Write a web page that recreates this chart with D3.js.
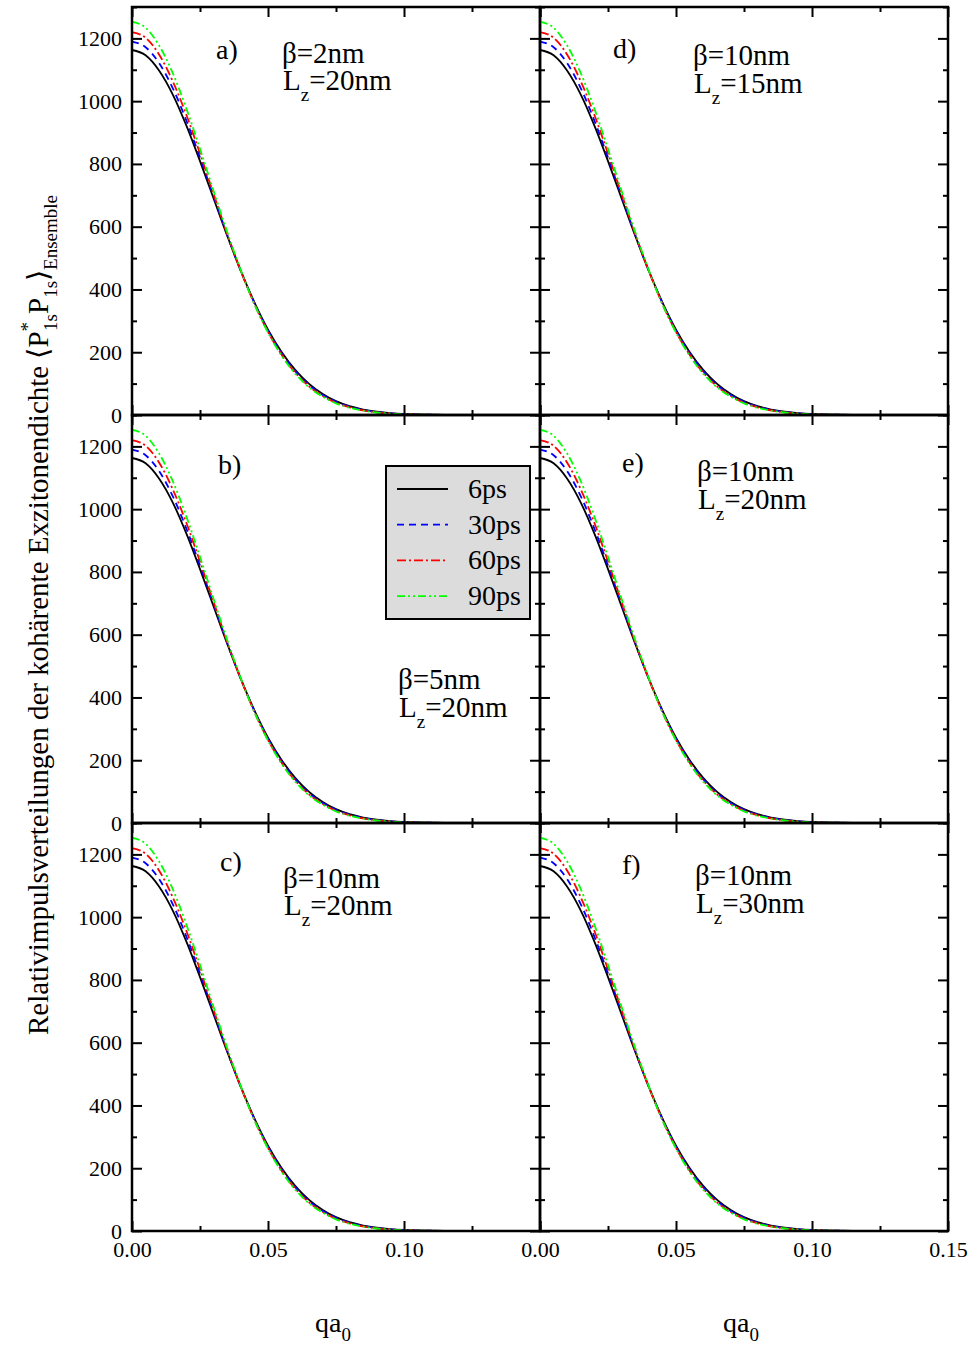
<!DOCTYPE html>
<html><head><meta charset="utf-8">
<script src="https://cdn.jsdelivr.net/npm/d3@7"></script>
<style>
html,body{margin:0;padding:0;background:#fff;}
svg{display:block;}
text{font-family:"Liberation Serif","Times New Roman",serif;fill:#000;}
</style>
</head><body>
<svg id="chart" width="972" height="1349"></svg>
<script>
// ---------------- data ----------------
const qValues = [0.000,0.005,0.010,0.015,0.020,0.025,0.030,0.035,0.040,0.045,0.050,0.055,0.060,0.065,0.070,0.075,0.080,0.085,0.090,0.095,0.100,0.105,0.110,0.115,0.120,0.130,0.140,0.150];
const ps6  = [1163,1146,1097,1021,922,809,690,571,459,359,272,201,144,100,68,44,28,17.5,10.5,6,3.5,2,1,0.5,0,0,0,0];
const ps30 = [1190,1172,1121,1041,938,820,697,574,459,357,269,197,140,96,64.5,42,26.4,16.2,9.6,5.5,3.1,1.7,0.9,0.4,0,0,0,0];
const ps60 = [1220,1202,1148,1063,956,833,704,577,459,354,265,192,135,92,61,39,24.5,14.8,8.7,4.9,2.7,1.4,0.7,0.35,0,0,0,0];
const ps90 = [1253,1234,1177,1089,976,848,714,583,461,353,263,189,132,89,59,37,23,14,8,4.5,2.4,1.2,0.6,0.3,0,0,0,0];
const seriesNames = ["6ps","30ps","60ps","90ps"];
const seriesValues = [ps6, ps30, ps60, ps90];

const panelLabels = ["a)","b)","c)","d)","e)","f)"];
const panelBeta   = ["2nm","5nm","10nm","10nm","10nm","10nm"];
const panelLz     = ["20nm","20nm","20nm","15nm","20nm","30nm"];

const yTicksMajor = [0,200,400,600,800,1000,1200];
const yTicksMinor = [100,300,500,700,900,1100,1300];
const xTicksMajor = [0,0.05,0.10,0.15];
const xTicksMinor = [0.025,0.075,0.125];
const xTickLabelsLeft  = [0,0.05,0.10];
const xTickLabelsRight = [0,0.05,0.10,0.15];

// ---------------- styles / layout ----------------
const seriesColor = ["#000000","#0000ff","#ff0000","#00ff00"];
const seriesDash  = [null,"7,5","9,3,2,3","8,3,2,3,2,3"];
const colX = [132, 540];
const rowY = [7, 415, 823];
const PW = 408, PH = 408;
// annotation positions (pixels, relative to panel origin)
const labelPos = [[84,52],[86,59],[88,48],[73,51],[82,57],[82,51]];
const paramPos = [[150,56,83],[266,274,302],[151,65,92],[153,58,86],[157,66,94],[155,62,90]];

const svg = d3.select("#chart");
const x = d3.scaleLinear().domain([0,0.15]).range([0,PW]);
const y = d3.scaleLinear().domain([0,1300]).range([PH,0]);

const line = d3.line()
  .x((d,i)=>x(qValues[i]))
  .y(d=>y(d))
  .curve(d3.curveMonotoneX);

panelLabels.forEach((lab, i) => {
  const col = i < 3 ? 0 : 1, row = i % 3;
  const g = svg.append("g").attr("transform", `translate(${colX[col]},${rowY[row]})`);

  seriesValues.forEach((vals, s) => {
    g.append("path").datum(vals)
      .attr("d", line)
      .attr("fill","none")
      .attr("stroke", seriesColor[s])
      .attr("stroke-width", 1.8)
      .attr("stroke-dasharray", seriesDash[s]);
  });

  const mk = (axis, tr) => {
    const a = g.append("g").attr("transform", tr).call(axis);
    a.select(".domain").remove();
    a.selectAll(".tick line").attr("stroke","#000").attr("stroke-width",2);
    return a;
  };
  const showY = col === 0;
  const ayl = mk(d3.axisLeft(y).tickValues(yTicksMajor).tickSize(-10).tickPadding(10)
      .tickFormat(showY ? d3.format("d") : () => ""), "translate(0,0)");
  mk(d3.axisLeft(y).tickValues(yTicksMinor).tickSize(-5).tickFormat(()=>""), "translate(0,0)");
  mk(d3.axisRight(y).tickValues(yTicksMajor).tickSize(-10).tickFormat(()=>""), `translate(${PW},0)`);
  mk(d3.axisRight(y).tickValues(yTicksMinor).tickSize(-5).tickFormat(()=>""), `translate(${PW},0)`);
  mk(d3.axisTop(x).tickValues(xTicksMajor).tickSize(-10).tickFormat(()=>""), "translate(0,0)");
  mk(d3.axisTop(x).tickValues(xTicksMinor).tickSize(-5).tickFormat(()=>""), "translate(0,0)");
  const showX = row === 2;
  const xl = col === 0 ? xTickLabelsLeft : xTickLabelsRight;
  const axb = mk(d3.axisBottom(x).tickValues(xTicksMajor).tickSize(-10).tickPadding(10)
      .tickFormat(d => (showX && xl.includes(d)) ? d3.format(".2f")(d) : ""), `translate(0,${PH})`);
  mk(d3.axisBottom(x).tickValues(xTicksMinor).tickSize(-5).tickFormat(()=>""), `translate(0,${PH})`);
  ayl.selectAll("text").attr("font-size",22).attr("font-family","Liberation Serif").attr("fill","#000");
  axb.selectAll("text").attr("font-size",22).attr("font-family","Liberation Serif").attr("fill","#000");

  g.append("rect").attr("x",0).attr("y",0).attr("width",PW).attr("height",PH)
    .attr("fill","none").attr("stroke","#000").attr("stroke-width",2.5);

  g.append("text").attr("x",labelPos[i][0]).attr("y",labelPos[i][1])
    .attr("font-size",28).text(lab);
  const pp = paramPos[i];
  g.append("text").attr("x",pp[0]).attr("y",pp[1]).attr("font-size",29).text("β=" + panelBeta[i]);
  const t = g.append("text").attr("x",pp[0]+1).attr("y",pp[2]).attr("font-size",29);
  t.append("tspan").text("L");
  t.append("tspan").attr("font-size",19).attr("dy",11).text("z");
  t.append("tspan").attr("dy",-11).text("=" + panelLz[i]);
});

// legend (in panel b)
const lg = svg.append("g").attr("transform","translate(386,466)");
lg.append("rect").attr("x",0).attr("y",0).attr("width",144).attr("height",153)
  .attr("fill","#dcdcdc").attr("stroke","#000").attr("stroke-width",2);
seriesNames.forEach((n, s) => {
  const yy = 23 + s*35.7;
  lg.append("line").attr("x1",11).attr("x2",62).attr("y1",yy).attr("y2",yy)
    .attr("stroke",seriesColor[s]).attr("stroke-width",1.8).attr("stroke-dasharray",seriesDash[s]);
  lg.append("text").attr("x",82).attr("y",yy+9).attr("font-size",28).text(n);
});

// x-axis titles
[0,1].forEach(c => {
  const t = svg.append("text").attr("x", colX[c] + PW/2 - 3).attr("y",1332)
    .attr("text-anchor","middle").attr("font-size",28);
  t.append("tspan").text("qa");
  t.append("tspan").attr("font-size",19).attr("dy",9).text("0");
});

// y-axis title
const yt = svg.append("text").attr("transform","translate(48,615) rotate(-90)")
  .attr("text-anchor","middle").attr("font-size",29);
yt.append("tspan").text("Relativimpulsverteilungen der kohärente Exzitonendichte ⟨P");
yt.append("tspan").attr("font-size",19).attr("dy",-14).text("*");
yt.append("tspan").attr("font-size",19).attr("dx",-9).attr("dy",23).text("1s");
yt.append("tspan").attr("dy",-9).text("P");
yt.append("tspan").attr("font-size",19).attr("dy",9).text("1s");
yt.append("tspan").attr("dy",-9).text("⟩");
yt.append("tspan").attr("font-size",19).attr("dy",9).text("Ensemble");
</script>
</body></html>
